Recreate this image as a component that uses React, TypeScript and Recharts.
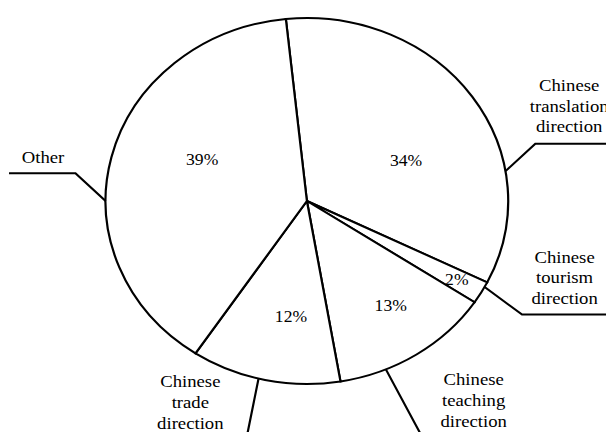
import { PieChart, Pie, Cell } from 'recharts'

const categories = [
  'Chinese translation direction',
  'Chinese tourism direction',
  'Chinese teaching direction',
  'Chinese trade direction',
  'Other',
]
const shares = [34, 2, 13, 12, 39]

const data = categories.map((name, i) => ({ name, value: shares[i] }))

// the original is a bit wider than tall, so the chart is drawn narrow and stretched
const STRETCH = 1.1
const W = 606 / STRETCH
const H = 432
const FONT = "'Liberation Serif', 'Times New Roman', Times, serif"
const RAD = Math.PI / 180

// where the percentage sits: fraction of the radius, and angle nudge from the slice middle
const pctRadius = [0.54, 0.86, 0.71, 0.64, 0.566]
const pctShift = [-10.7, 0, 2.9, 4.9, -9.4]

// callout styling: angle nudge from the slice middle, elbow offset, tail length, text offset from elbow
const callouts = [
  { shift: -25.4, elbow: [27.1, -27.4], tail: 80, text: [30.8, -53] },
  { shift: 2, elbow: [34, 27.7], tail: 90, text: [38.7, -52] },
  { shift: -9.9, elbow: [34.5, 70.7], tail: 80, text: [45.3, -55] },
  { shift: -1.9, elbow: [-11.4, 62], tail: -80, text: [-50.6, -53.7] },
  { shift: 13.8, elbow: [-27.4, -27.7], tail: -60.4, text: [-29.5, -10.6] },
]

const renderLabel = (props: any) => {
  const { cx, cy, midAngle, outerRadius, index, value, name } = props
  const pr = outerRadius * pctRadius[index]
  const pa = midAngle + pctShift[index]
  const px = cx + pr * Math.cos(-pa * RAD)
  const py = cy + pr * Math.sin(-pa * RAD)

  const c = callouts[index]
  const a = midAngle + c.shift
  const sx = cx + outerRadius * Math.cos(-a * RAD)
  const sy = cy + outerRadius * Math.sin(-a * RAD)
  const ex = sx + c.elbow[0]
  const ey = sy + c.elbow[1]
  const lines = String(name).split(' ')

  return (
    <g>
      <text
        x={px}
        y={py}
        textAnchor="middle"
        dominantBaseline="central"
        fontFamily={FONT}
        fontSize={16}
        fill="#000"
      >
        {value}%
      </text>
      <polyline
        points={`${sx},${sy} ${ex},${ey} ${ex + c.tail},${ey}`}
        fill="none"
        stroke="#000"
        strokeWidth={2}
      />
      <text
        x={ex + c.text[0]}
        y={ey + c.text[1]}
        textAnchor="middle"
        fontFamily={FONT}
        fontSize={17}
        fill="#000"
      >
        {lines.map((l, i) => (
          <tspan key={i} x={ex + c.text[0]} dy={i === 0 ? 0 : 20.8}>
            {l}
          </tspan>
        ))}
      </text>
    </g>
  )
}

const App = () => {
  return (
    <div
      style={{
        position: 'absolute',
        left: 0,
        top: 0,
        width: 606,
        height: 432,
        overflow: 'hidden',
        background: '#fff',
      }}
    >
      <div style={{ transform: `scaleX(${STRETCH})`, transformOrigin: '0 0' }}>
        <PieChart width={W} height={H} margin={{ top: 0, right: 0, bottom: 0, left: 0 }}>
          <Pie
            data={data}
            dataKey="value"
            nameKey="name"
            cx={279}
            cy={201}
            outerRadius={183}
            startAngle={96}
            endAngle={-264}
            stroke="#000"
            strokeWidth={2}
            label={renderLabel}
            labelLine={false}
            isAnimationActive={false}
          >
            {data.map((d) => (
              <Cell key={d.name} fill="#fff" stroke="#000" />
            ))}
          </Pie>
        </PieChart>
      </div>
    </div>
  )
}

export default App
